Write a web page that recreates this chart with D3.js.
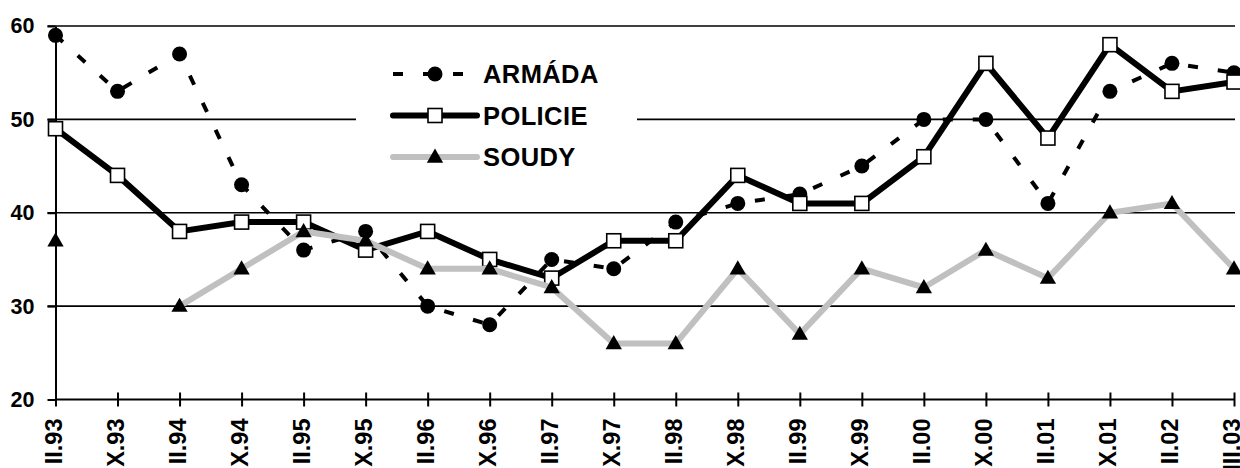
<!DOCTYPE html>
<html>
<head>
<meta charset="utf-8">
<script src="https://cdn.jsdelivr.net/npm/d3@7"></script>
<style>
  body { margin: 0; background: #fff; }
  svg { display: block; font-family: "Liberation Sans", Arial, sans-serif; font-weight: bold; }
</style>
</head>
<body>
<div id="chart"></div>
<script>
const WIDTH = 1240,
  HEIGHT = 468;

// survey waves
const periods = ["II.93", "X.93", "II.94", "X.94", "II.95", "X.95", "II.96", "X.96", "II.97", "X.97",
  "II.98", "X.98", "II.99", "X.99", "II.00", "X.00", "II.01", "X.01", "II.02", "III.03"];

const armada = [59, 53, 57, 43, 36, 38, 30, 28, 35, 34, 39, 41, 42, 45, 50, 50, 41, 53, 56, 55];
const policie = [49, 44, 38, 39, 39, 36, 38, 35, 33, 37, 37, 44, 41, 41, 46, 56, 48, 58, 53, 54];
const soudy = [37, null, 30, 34, 38, 37, 34, 34, 32, 26, 26, 34, 27, 34, 32, 36, 33, 40, 41, 34];

const yTicks = [20, 30, 40, 50, 60];

const series = [
  { name: "ARMÁDA", values: armada, color: "#000", width: 4, dash: "10,20", marker: "circle" },
  { name: "POLICIE", values: policie, color: "#000", width: 6, dash: null, marker: "square" },
  { name: "SOUDY", values: soudy, color: "#c0c0c0", width: 6, dash: null, marker: "triangle" }
];

const plot = { left: 55.5, right: 1234, top: 26, bottom: 399.5 };

var svg = d3.select("#chart").append("svg")
  .attr("width", WIDTH)
  .attr("height", HEIGHT);

var x = d3.scalePoint().domain(periods).range([plot.left, plot.right]);
var y = d3.scaleLinear().domain([20, 60]).range([plot.bottom, plot.top]);

// gridlines
svg.append("g")
  .selectAll("line")
  .data(yTicks.filter(d => d > 20))
  .enter().append("line")
  .attr("x1", plot.left - 8)
  .attr("x2", 1235)
  .attr("y1", d => y(d))
  .attr("y2", d => y(d))
  .attr("stroke", "#000")
  .attr("stroke-width", 1.6);

// legend background (hides the gridline behind it)
var legend = svg.append("g");
legend.append("rect")
  .attr("x", 356)
  .attr("y", 50)
  .attr("width", 281)
  .attr("height", 128)
  .attr("fill", "#fff");

// y axis
var yAxis = svg.append("g")
  .attr("transform", "translate(" + plot.left + ",0)")
  .call(d3.axisLeft(y).tickValues(yTicks).tickSize(8).tickSizeOuter(0).tickPadding(13));
yAxis.select(".domain").attr("stroke", "#000").attr("stroke-width", 2);
yAxis.selectAll(".tick line").attr("stroke-width", 2);
yAxis.selectAll("text")
  .attr("font-size", 21.5)
  .attr("font-weight", "bold")
  .attr("font-family", "Liberation Sans, Arial, sans-serif")
  .attr("fill", "#000");

// x axis with crossing ticks
var xAxis = svg.append("g")
  .attr("transform", "translate(0," + plot.bottom + ")")
  .call(d3.axisBottom(x).tickSize(7).tickSizeOuter(0));
xAxis.select(".domain").attr("stroke", "#000").attr("stroke-width", 2)
  .attr("d", "M" + plot.left + ",0H" + (plot.right + 1));
xAxis.selectAll(".tick line").attr("y1", -7).attr("y2", 7).attr("stroke-width", 2);
xAxis.selectAll("text")
  .attr("font-size", 23.5)
  .attr("font-weight", "bold")
  .attr("font-family", "Liberation Sans, Arial, sans-serif")
  .attr("fill", "#000")
  .attr("text-anchor", "end")
  .attr("transform", "translate(0,19) rotate(-90)")
  .attr("x", 0)
  .attr("y", 0)
  .attr("dy", "0.25em");

function drawMarker(sel, type) {
  if (type === "circle") {
    sel.append("circle").attr("r", 7.5).attr("fill", "#000");
  } else if (type === "square") {
    sel.append("rect")
      .attr("x", -7).attr("y", -7)
      .attr("width", 14).attr("height", 14)
      .attr("fill", "#fff").attr("stroke", "#000").attr("stroke-width", 1.6);
  } else {
    sel.append("path")
      .attr("d", d3.symbol().type(d3.symbolTriangle).size(115))
      .attr("transform", "translate(0,1)")
      .attr("fill", "#000");
  }
}

var line = d3.line()
  .defined(d => d.v !== null)
  .x(d => x(d.p))
  .y(d => y(d.v));

series.forEach(function(s) {
  var pts = periods.map((p, i) => ({ p: p, v: s.values[i] }));
  var g = svg.append("g").attr("class", "series");
  g.append("path")
    .datum(pts)
    .attr("d", line)
    .attr("fill", "none")
    .attr("stroke", s.color)
    .attr("stroke-width", s.width)
    .attr("stroke-linejoin", "miter")
    .attr("stroke-dasharray", s.dash);
  var m = g.selectAll(".marker")
    .data(pts.filter(d => d.v !== null))
    .enter().append("g")
    .attr("class", "marker")
    .attr("transform", d => "translate(" + x(d.p) + "," + y(d.v) + ")");
  drawMarker(m, s.marker);
});

// legend entries
var rows = legend.selectAll(".row")
  .data(series)
  .enter().append("g")
  .attr("class", "row")
  .attr("transform", (d, i) => "translate(0," + (74 + i * 41.5) + ")");

rows.append("line")
  .attr("x1", 393).attr("x2", 477)
  .attr("stroke", d => d.color)
  .attr("stroke-width", d => d.width)
  .attr("stroke-linecap", d => d.dash ? "butt" : "round")
  .attr("stroke-dasharray", d => d.dash);

rows.each(function(d) {
  var m = d3.select(this).append("g").attr("transform", "translate(435,0)");
  drawMarker(m, d.marker);
});

rows.append("text")
  .attr("x", 483)
  .attr("dy", "0.36em")
  .attr("font-size", 25.5)
  .attr("letter-spacing", 0.4)
  .attr("fill", "#000")
  .text(d => d.name);
</script>
</body>
</html>
